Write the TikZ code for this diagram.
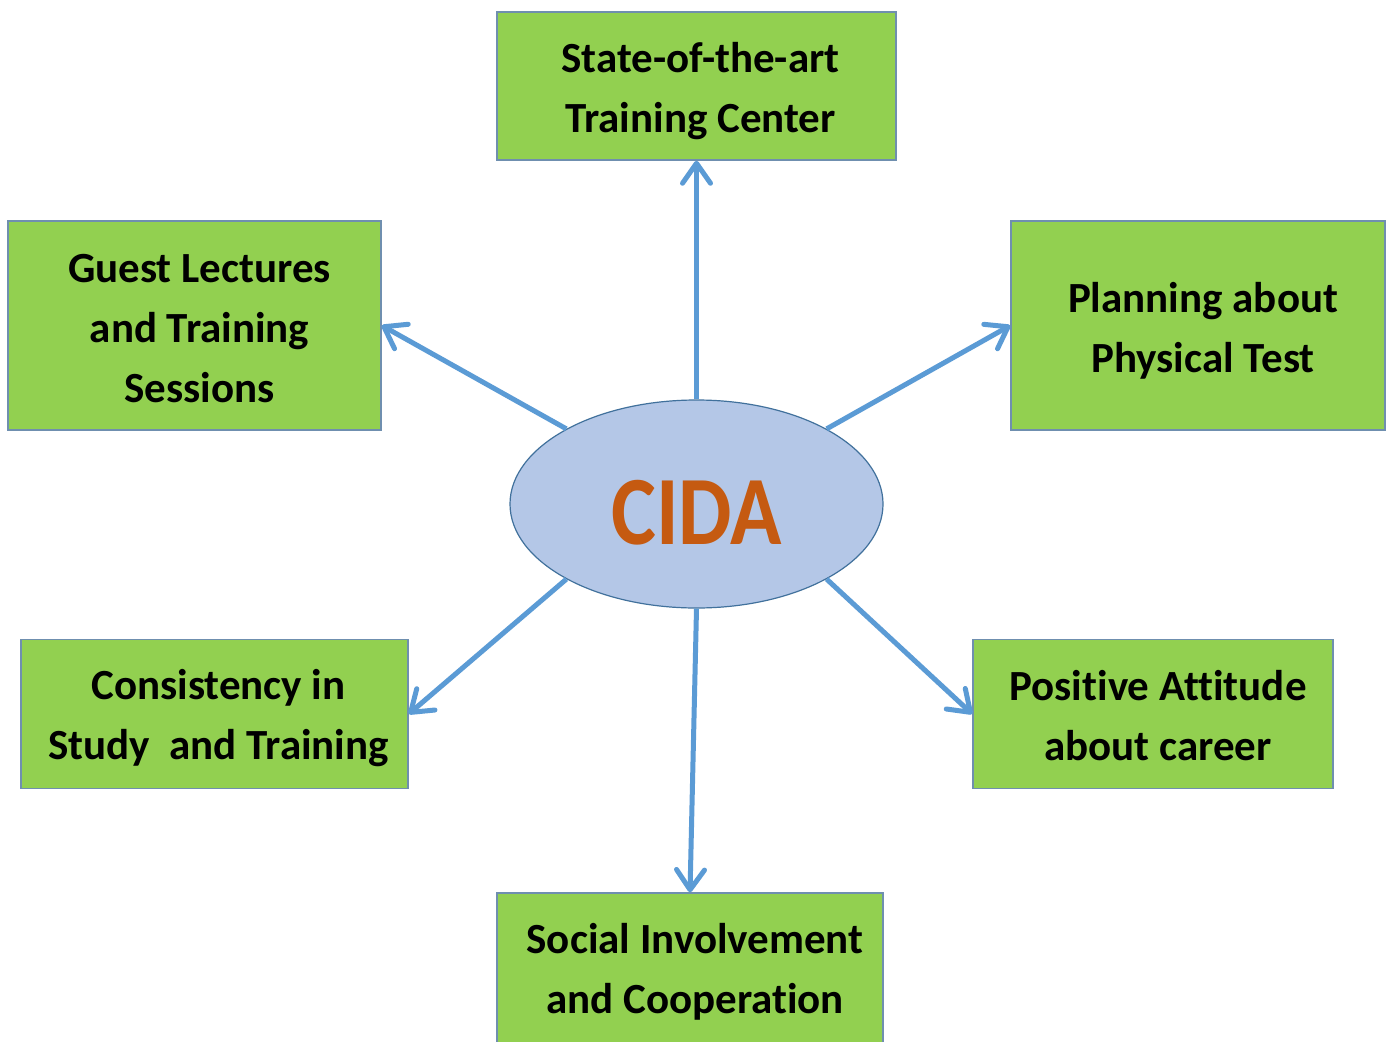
\documentclass[tikz,border=0pt]{standalone}
\usepackage{fontspec}
\setmainfont[Ligatures={NoCommon}]{Carlito}
\usetikzlibrary{arrows.meta,shapes.geometric}
\definecolor{boxgreen}{HTML}{92D050}
\definecolor{boxedge}{HTML}{6F8FAF}
\definecolor{ellfill}{HTML}{B4C7E7}
\definecolor{elledge}{HTML}{41719C}
\definecolor{arrowblue}{HTML}{5B9BD5}
\definecolor{cidaorange}{HTML}{C55A11}
\tikzset{
  greenbox/.style={draw=boxedge, line width=1.5pt, fill=boxgreen, rectangle,
    inner sep=0pt},
  boxtext/.style={align=center, inner sep=0pt,
    font=\fontsize{43pt}{60pt}\selectfont\bfseries},
  hubnode/.style={draw=elledge, line width=1.2pt, fill=ellfill, ellipse,
    minimum width=373pt, minimum height=208pt, inner sep=0pt},
  hubtext/.style={inner sep=0pt, text=cidaorange,
    font=\fontsize{98pt}{110pt}\selectfont\bfseries},
  spoke/.style={draw=arrowblue, line width=5pt,
    -{Straight Barb[length=20pt,width=28pt,line cap=round,line join=round]}}
}
\begin{document}
\begin{tikzpicture}[x=1pt,y=-1pt]
\useasboundingbox[fill=white] (0,0) rectangle (1391,1041);
\node[hubnode] (cida) at (696.5,504) {};
\node[hubtext] (cidatext) at ([yshift=-9pt]cida.center) {\scalebox{0.865}[1]{CIDA}};
\node[greenbox, minimum width=399pt, minimum height=148pt] (top) at (696.5,86) {};
\node[greenbox, minimum width=373pt, minimum height=209pt] (gl) at (194.5,325.5) {};
\node[greenbox, minimum width=374pt, minimum height=209pt] (pl) at (1198,325.5) {};
\node[greenbox, minimum width=387pt, minimum height=149pt] (cs) at (214.5,714) {};
\node[greenbox, minimum width=360pt, minimum height=149pt] (pa) at (1153,714) {};
\node[greenbox, minimum width=386pt, minimum height=150pt] (si) at (690,968) {};
\node[boxtext] (toptext) at ([xshift=4pt,yshift=-5pt]top.center) {State-of-the-art\\Training Center};
\node[boxtext] (gltext) at ([xshift=5pt,yshift=-3pt]gl.center) {Guest Lectures\\and Training\\Sessions};
\node[boxtext] (pltext) at ([xshift=5pt,yshift=-5pt]pl.center) {Planning about\\Physical Test};
\node[boxtext] (cstext) at ([xshift=4pt,yshift=-4pt]cs.center) {Consistency in\\Study\ \ and Training};
\node[boxtext] (patext) at ([xshift=5pt,yshift=-2pt]pa.center) {Positive Attitude\\about career};
\node[boxtext] (sitext) at ([xshift=5pt,yshift=-4pt]si.center) {Social Involvement\\and Cooperation};
\draw[spoke] (cida.north) -- (top.south);
\draw[spoke] (cida.150) -- (gl.east);
\draw[spoke] (cida.30) -- (pl.west);
\draw[spoke] (cida.210) -- (cs.east);
\draw[spoke] (cida.-30) -- (pa.west);
\draw[spoke] (cida.south) -- (si.north);
\end{tikzpicture}
\end{document}
